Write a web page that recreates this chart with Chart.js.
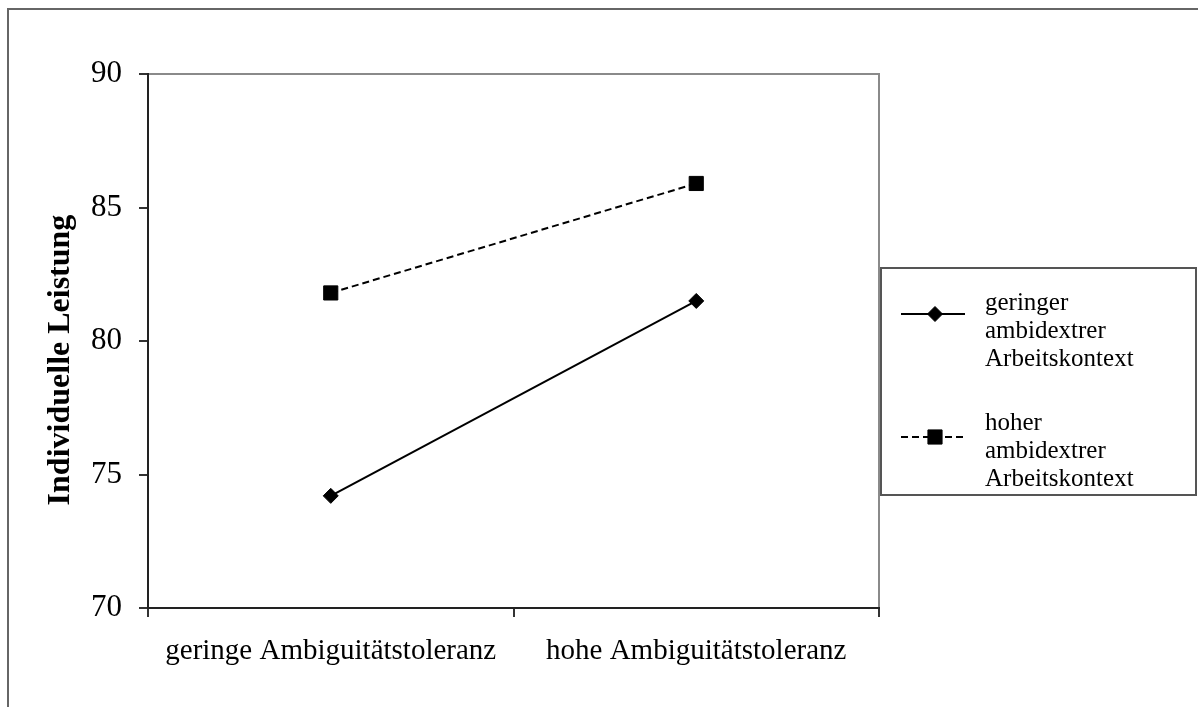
<!DOCTYPE html>
<html lang="de">
<head>
<meta charset="utf-8">
<title>Individuelle Leistung</title>
<script src="https://cdn.jsdelivr.net/npm/chart.js@4/dist/chart.umd.min.js"></script>
<style>
  html, body { margin: 0; padding: 0; background: #fff; }
  canvas { display: block; }
</style>
</head>
<body>
<canvas id="c" width="1198" height="707"></canvas>
<script>
// Categories on the x axis
const categories = ['geringe Ambiguitätstoleranz', 'hohe Ambiguitätstoleranz'];
// Series values (Individuelle Leistung)
const lowContextValues = [74.2, 81.5];
const highContextValues = [81.8, 85.9];
// Series names (one word per legend line)
const lowContextName = 'geringer ambidextrer Arbeitskontext';
const highContextName = 'hoher ambidextrer Arbeitskontext';
// Value axis
const yTickValues = [70, 75, 80, 85, 90];
const yTitle = 'Individuelle Leistung';

const SERIF = '"Liberation Serif", "Times New Roman", serif';

// White page, outer frame and the grey top/right edges of the plot area
const framePlugin = {
  id: 'frame',
  beforeDraw(chart) {
    const ctx = chart.ctx;
    ctx.save();
    ctx.fillStyle = '#fff';
    ctx.fillRect(0, 0, chart.width, chart.height);
    ctx.strokeStyle = '#666';
    ctx.lineWidth = 2;
    ctx.beginPath();
    ctx.moveTo(8, chart.height);
    ctx.lineTo(8, 9);
    ctx.lineTo(chart.width, 9);
    ctx.stroke();
    const a = chart.chartArea;
    ctx.strokeStyle = '#8a8a8a';
    ctx.lineWidth = 2;
    ctx.beginPath();
    ctx.moveTo(a.left, a.top);
    ctx.lineTo(a.right, a.top);
    ctx.lineTo(a.right, a.bottom);
    ctx.stroke();
    ctx.restore();
  },
  afterDraw(chart) {
    // rotated axis title
    const ctx = chart.ctx;
    ctx.save();
    ctx.translate(69, 360);
    ctx.rotate(-Math.PI / 2);
    ctx.font = 'bold 32px ' + SERIF;
    ctx.fillStyle = '#000';
    ctx.textAlign = 'center';
    ctx.textBaseline = 'alphabetic';
    ctx.fillText(yTitle, 0, 0);
    ctx.restore();
  }
};

// Boxed legend at the right, with multi-line series names
const boxLegendPlugin = {
  id: 'boxLegend',
  afterDraw(chart) {
    const ctx = chart.ctx;
    const box = { left: 881, top: 268, right: 1196, bottom: 495 };
    ctx.save();
    ctx.fillStyle = '#fff';
    ctx.fillRect(box.left, box.top, box.right - box.left, box.bottom - box.top);
    ctx.strokeStyle = '#555';
    ctx.lineWidth = 2;
    ctx.strokeRect(box.left, box.top, box.right - box.left, box.bottom - box.top);

    const itemTops = [310, 430];       // first-line baselines
    const sampleYs = [314, 437];
    const lineGap = 28;
    chart.data.datasets.forEach((ds, i) => {
      const sy = sampleYs[i];
      ctx.save();
      ctx.strokeStyle = ds.borderColor;
      ctx.lineWidth = ds.borderWidth;
      ctx.setLineDash(ds.borderDash || []);
      ctx.beginPath();
      ctx.moveTo(901, sy);
      ctx.lineTo(965, sy);
      ctx.stroke();
      ctx.setLineDash([]);
      ctx.fillStyle = ds.pointBackgroundColor;
      ctx.strokeStyle = ds.pointBorderColor;
      ctx.lineWidth = ds.pointBorderWidth;
      Chart.helpers.drawPoint(ctx, {
        pointStyle: ds.pointStyle,
        radius: ds.pointRadius,
        rotation: 0,
        borderWidth: ds.pointBorderWidth
      }, 935, sy);
      ctx.restore();

      ctx.fillStyle = '#000';
      ctx.font = '25px ' + SERIF;
      ctx.textAlign = 'left';
      ctx.textBaseline = 'alphabetic';
      ds.label.split(' ').forEach((word, k) => {
        ctx.fillText(word, 985, itemTops[i] + k * lineGap);
      });
    });
    ctx.restore();
  }
};

new Chart(document.getElementById('c'), {
  type: 'line',
  data: {
    labels: categories,
    datasets: [
      {
        label: lowContextName,
        data: lowContextValues,
        borderColor: '#000',
        borderWidth: 2,
        pointStyle: 'rectRot',
        pointRadius: 7.5,
        pointBackgroundColor: '#000',
        pointBorderColor: '#000',
        pointBorderWidth: 1,
        tension: 0
      },
      {
        label: highContextName,
        data: highContextValues,
        borderColor: '#000',
        borderWidth: 2,
        borderDash: [7, 4],
        pointStyle: 'rect',
        pointRadius: 10,
        pointBackgroundColor: '#000',
        pointBorderColor: '#000',
        pointBorderWidth: 1,
        tension: 0
      }
    ]
  },
  options: {
    responsive: false,
    devicePixelRatio: 1,
    animation: false,
    layout: { padding: { top: 74, right: 319, bottom: 0, left: 0 } },
    plugins: {
      legend: { display: false },
      tooltip: { enabled: false }
    },
    scales: {
      x: {
        type: 'category',
        offset: true,
        afterFit(scale) { scale.height = 99; },
        grid: {
          display: true,
          offset: true,
          drawOnChartArea: false,
          drawTicks: true,
          tickLength: 9,
          color: '#333',
          lineWidth: 2
        },
        border: { display: true, color: '#222', width: 2 },
        ticks: {
          color: '#000',
          padding: 17,
          maxRotation: 0,
          autoSkip: false,
          font: { family: SERIF, size: 29 }
        }
      },
      y: {
        min: yTickValues[0],
        max: yTickValues[yTickValues.length - 1],
        afterFit(scale) { scale.width = 148; },
        afterBuildTicks(scale) {
          scale.ticks = yTickValues.map(v => ({ value: v }));
        },
        grid: {
          display: true,
          drawOnChartArea: false,
          drawTicks: true,
          tickLength: 9,
          color: '#333',
          lineWidth: 2
        },
        border: { display: true, color: '#222', width: 2 },
        ticks: {
          color: '#000',
          padding: 17,
          font: { family: SERIF, size: 31 }
        }
      }
    }
  },
  plugins: [framePlugin, boxLegendPlugin]
});
</script>
</body>
</html>
